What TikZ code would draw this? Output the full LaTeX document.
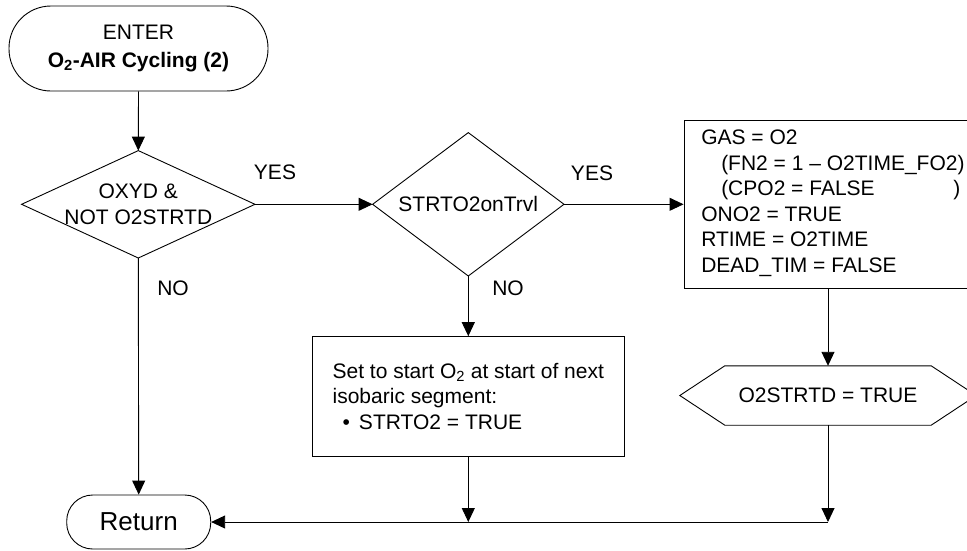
\documentclass[tikz,border=0pt]{standalone}
\usepackage{fontspec}
\setmainfont{Liberation Sans}
\usetikzlibrary{arrows.meta}
\begin{document}
\begin{tikzpicture}[x=1pt,y=-1pt,
  every node/.style={font=\fontsize{21}{25.5}\selectfont, inner sep=0pt},
  ln/.style={line width=0.9pt, draw=black},
  arr/.style={ln, -{Triangle[length=14pt,width=13pt]}},
  term/.style={draw, line width=0.9pt, rectangle, align=center},
  boxed/.style={draw, line width=0.9pt, rectangle},
  lab/.style={anchor=center}]
\useasboundingbox (0,0) rectangle (967,550);
% nodes
\node[term, rounded corners=42pt, minimum width=259pt, minimum height=85pt] (enter) at (138.5,48.5)
  {\raisebox{-2pt}{ENTER}\\[2pt]\raisebox{-2pt}{\textbf{O\textsubscript{2}-AIR Cycling (2)}}};
\node[minimum width=233pt, minimum height=107pt, align=center] (d1) at (138.3,204.3) {OXYD \&\\NOT O2STRTD};
\draw[ln] (d1.west) -- (d1.north) -- (d1.east) -- (d1.south) -- cycle;
\node[minimum width=191pt, minimum height=143pt] (d2) at (468.3,204.3) {STRTO2onTrvl};
\draw[ln] (d2.west) -- (d2.north) -- (d2.east) -- (d2.south) -- cycle;
\node[boxed, minimum width=288pt, minimum height=168pt] (gbox) at (828,204) {};
\node[anchor=west, align=left] (gtext) at ([xshift=17.5pt,yshift=1pt]gbox.west)
  {GAS = O2\\
   \hspace*{20pt}(FN2 = 1 \textendash{} O2TIME\_FO2)\\
   \hspace*{20pt}\hbox to 239pt{(CPO2 = FALSE\hfill)}\\
   ONO2 = TRUE\\
   RTIME = O2TIME\\
   DEAD\_TIM = FALSE};
\node[boxed, minimum width=312pt, minimum height=119.3pt, align=left] (sb) at (468.3,396.3)
  {Set to start O\textsubscript{2} at start of next\\
   isobaric segment:\\
   \hspace*{10pt}\textbullet\hspace{9pt}STRTO2 = TRUE};
\node[minimum width=296pt, minimum height=59pt] (hx) at (828,395.5) {O2STRTD = TRUE};
\draw[ln] (hx.west) -- ([xshift=45pt]hx.north west) -- ([xshift=-45pt]hx.north east) -- (hx.east)
  -- ([xshift=-45pt]hx.south east) -- ([xshift=45pt]hx.south west) -- cycle;
\node[term, rounded corners=26pt, minimum width=144pt, minimum height=54pt,
  font=\fontsize{26}{30}\selectfont] (ret) at (138.7,522) {Return};
\coordinate (j1) at (sb.south |- ret.east);
\coordinate (j2) at (hx.south |- ret.east);
% labels
\node[lab] (y1) at (275,172.7) {YES};
\node[lab] (n1) at (173,288.3) {NO};
\node[lab] (y2) at (592,173) {YES};
\node[lab] (n2) at (508,288.3) {NO};
% connectors
\draw[arr] (enter.south) -- (d1.north);
\draw[arr] (d1.east) -- (d2.west);
\draw[arr] (d2.east) -- (d2.east -| gbox.west);
\draw[arr] (d2.south) -- (sb.north);
\draw[arr] (gbox.south) -- (hx.north);
\draw[arr] (d1.south) -- (ret.north);
\draw[arr] (sb.south) -- (j1);
\draw[arr] (hx.south) -- (j2);
\draw[arr] (j2) -- (ret.east);
\end{tikzpicture}
\end{document}
